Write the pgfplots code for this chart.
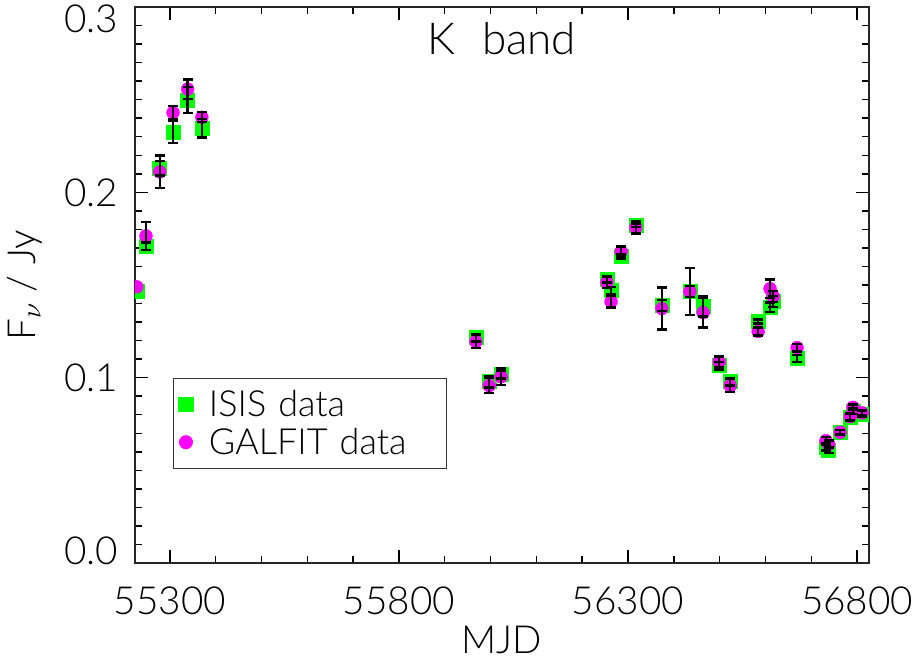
\documentclass[border=0pt]{standalone}
\usepackage{fontspec}
\setmainfont{Lato}[UprightFont=* Light]
\usepackage{pgfplots}
\usepackage{pgfplotstable}
\pgfplotsset{compat=1.18}
\definecolor{isisgreen}{RGB}{0,255,0}
\definecolor{galmag}{RGB}{255,0,255}
\newcommand\bigfont{\fontsize{29}{33}\selectfont}
\newcommand\legfont{\fontsize{27}{31}\selectfont}
\newcommand\titlefont{\fontsize{33}{37}\selectfont}

% mjd, ISIS flux, ISIS err, GALFIT flux, GALFIT err (Jy)
\pgfplotstableread{
mjd   isis   ie     galfit ge
55228 0.1465 0.0000 0.1490 0.0000
55248 0.1710 0.0020 0.1765 0.0075
55278 0.2130 0.0040 0.2110 0.0088
55307 0.2325 0.0060 0.2430 0.0035
55339 0.2497 0.0070 0.2557 0.0052
55370 0.2346 0.0050 0.2405 0.0027
55968 0.1216 0.0020 0.1195 0.0035
55997 0.0978 0.0030 0.0957 0.0040
56023 0.1016 0.0020 0.1005 0.0045
56254 0.1530 0.0016 0.1514 0.0030
56263 0.1470 0.0020 0.1410 0.0032
56285 0.1654 0.0010 0.1681 0.0027
56317 0.1822 0.0010 0.1811 0.0033
56374 0.1389 0.0030 0.1373 0.0113
56435 0.1465 0.0030 0.1465 0.0128
56464 0.1384 0.0054 0.1351 0.0080
56499 0.1065 0.0020 0.1086 0.0028
56523 0.0978 0.0020 0.0957 0.0035
56584 0.1303 0.0010 0.1249 0.0022
56610 0.1380 0.0025 0.1480 0.0050
56617 0.1410 0.0030 0.1438 0.0030
56669 0.1103 0.0020 0.1162 0.0020
56732 0.0627 0.0020 0.0660 0.0020
56738 0.0610 0.0015 0.0640 0.0020
56763 0.0705 0.0012 0.0705 0.0012
56785 0.0785 0.0020 0.0790 0.0020
56791 0.0820 0.0015 0.0840 0.0015
56811 0.0805 0.0015 0.0810 0.0015
}\kband

\begin{document}
\begin{tikzpicture}
\begin{axis}[
    clip marker paths=true,
    scale only axis,
    width=550.5pt, height=417pt,
    xmin=55224, xmax=56826,
    ymin=0, ymax=0.3,
    scaled x ticks=false, scaled y ticks=false,
    axis line style={line width=1.3pt, black!85},
    xtick={55300,55800,56300,56800},
    xticklabels={55300,55800,56300,56800},
    ytick={0,0.1,0.2,0.3},
    yticklabels={\raisebox{9pt}[\height][\depth]{0.0},0.1,0.2,\raisebox{-9pt}[\height][\depth]{0.3}},
    minor x tick num=4,
    minor y tick num=9,
    major tick length=10pt,
    minor tick length=5.5pt,
    tick style={line width=1.1pt, black},
    tick align=inside,
    every tick label/.append style={font=\bigfont},
    xticklabel style={anchor=center, yshift=-28pt},
    yticklabel style={anchor=east, inner sep=0pt, xshift=-12.5pt},
    xlabel={MJD},
    ylabel={F$_{\nu}$ / Jy},
    every axis x label/.style={at={(axis description cs:0.5,0)}, anchor=center, yshift=-57.75pt, font=\bigfont},
    every axis y label/.style={at={(axis description cs:0,0.5)}, xshift=-82.5pt, rotate=90, anchor=center, font=\bigfont},
    title={K\hspace{0.6em}band},
    title style={at={(axis description cs:0.5,1)}, anchor=center, yshift=-30pt, font=\titlefont},
    legend cell align=left,
    legend style={at={(0.0518,0.3327)}, anchor=north west, draw=black!80, line width=0.9pt,
        font=\legfont, inner xsep=4pt, inner ysep=7pt, row sep=3pt,
        /tikz/every odd column/.append style={column sep=10pt},
        /tikz/every even column/.append style={text width=172pt}},
]
\addplot[only marks, mark=square*, mark size=5.25pt, color=isisgreen, draw=none]
    table[x=mjd, y=isis] {\kband};
\addlegendentry{ISIS data}
\addplot[only marks, mark=*, mark size=4.8pt, color=galmag, draw=none]
    table[x=mjd, y=galfit] {\kband};
\addlegendentry{GALFIT data}
\addplot[forget plot, draw=none, mark=none, restrict x to domain=55235:56900,
    error bars/.cd, y dir=both, y explicit,
    error mark=-, error mark options={rotate=90, draw=black, solid, line width=1.8pt, mark size=3.75pt},
    error bar style={draw=black, solid, line width=1.8pt}]
    table[x=mjd, y=isis, y error=ie] {\kband};
\addplot[forget plot, draw=none, mark=none, restrict x to domain=55235:56900,
    error bars/.cd, y dir=both, y explicit,
    error mark=-, error mark options={rotate=90, draw=black, solid, line width=1.8pt, mark size=3.75pt},
    error bar style={draw=black, solid, line width=1.8pt}]
    table[x=mjd, y=galfit, y error=ge] {\kband};
\end{axis}
\pgfresetboundingbox
\path (current axis.south west) ++(-101.25pt,-75.75pt) rectangle ++(687pt,498pt);
\end{tikzpicture}
\end{document}
